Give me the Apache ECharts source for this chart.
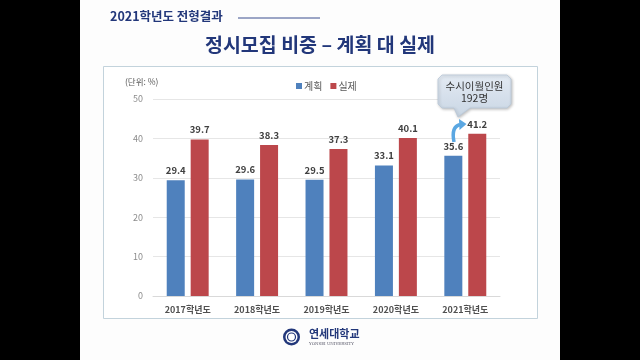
<!DOCTYPE html>
<html><head><meta charset="utf-8">
<script src="https://cdn.jsdelivr.net/npm/echarts@6/dist/echarts.min.js"></script>
<style>html,body{margin:0;padding:0;background:#000;}#c{width:640px;height:360px;}</style>
</head><body><div id="c"></div>
<script>
const categories = ['2017학년도','2018학년도','2019학년도','2020학년도','2021학년도'];
const planned = [29.4, 29.6, 29.5, 33.1, 35.6];
const actual = [39.7, 38.3, 37.3, 40.1, 41.2];
const yTicks = [0, 10, 20, 30, 40, 50];

const FONT = '"Noto Sans CJK KR", "Noto Sans", sans-serif';
const NAVY = '#22377a';
const chart = echarts.init(document.getElementById('c'));
chart.setOption({
  backgroundColor: '#000',
  animation: false,
  textStyle: { fontFamily: FONT },
  graphic: [
    { type: 'rect', z: -100, shape: { x: 80, y: 0, width: 480, height: 360 }, style: { fill: '#fdfdfd' } },
    { type: 'text', left: 110, top: 10, style: { text: '2021학년도 전형결과', font: 'bold 12.5px ' + FONT, fill: NAVY } },
    { type: 'line', shape: { x1: 238, y1: 18, x2: 320, y2: 18 }, style: { stroke: '#3a4f8f', lineWidth: 1 } },
    { type: 'text', x: 320, y: 45, style: { text: '정시모집 비중 – 계획 대 실제', font: 'bold 19.5px ' + FONT, fill: NAVY, textAlign: 'center', textVerticalAlign: 'middle' } },
    { type: 'rect', z: -50, shape: { x: 103.5, y: 66.5, width: 434, height: 252 }, style: { fill: '#ffffff', stroke: '#c3d3dc', lineWidth: 1 } },
    { type: 'text', x: 125, y: 82, style: { text: '(단위: %)', font: '8.5px ' + FONT, fill: '#595959', textVerticalAlign: 'middle' } },
    // callout
    { type: 'polygon', z: 10, shape: { points: [[442,75],[507,75],[511,79],[511,104],[507,108],[470,108],[458,117],[454,108],[442,108],[438,104],[438,79]] },
      style: { fill: new echarts.graphic.LinearGradient(0,0,0,1,[{offset:0,color:'#e3eaf3'},{offset:1,color:'#c9d6e4'}]), stroke: '#b9c8d8', lineWidth: 0.8, shadowBlur: 3, shadowColor: 'rgba(0,0,0,0.25)', shadowOffsetX: 1, shadowOffsetY: 1 } },
    { type: 'text', z: 11, x: 474.5, y: 86, style: { text: '수시이월인원', font: '10.5px ' + FONT, fill: '#333', textAlign: 'center', textVerticalAlign: 'middle' } },
    { type: 'text', z: 11, x: 474.5, y: 98.5, style: { text: '192명', font: '10.5px ' + FONT, fill: '#333', textAlign: 'center', textVerticalAlign: 'middle' } },
    // curved arrow
    { type: 'bezierCurve', z: 10, shape: { x1: 454, y1: 142, cpx1: 452, cpy1: 132, cpx2: 454, cpy2: 126, x2: 460, y2: 124.5 }, style: { stroke: '#5aa7e2', lineWidth: 3.5, fill: null } },
    { type: 'polygon', z: 10, shape: { points: [[459,119],[466.5,124],[459.5,130]] }, style: { fill: '#5aa7e2' } },
    // logo
    { type: 'circle', z: 5, shape: { cx: 291.5, cy: 337, r: 8.5 }, style: { fill: NAVY } },
    { type: 'circle', z: 6, shape: { cx: 291.5, cy: 337, r: 6 }, style: { fill: '#fff' } },
    { type: 'circle', z: 7, shape: { cx: 291.5, cy: 337, r: 4 }, style: { fill: 'none', stroke: NAVY, lineWidth: 1.2 } },
    { type: 'text', x: 309, y: 334, style: { text: '연세대학교', font: 'bold 11px ' + FONT, fill: NAVY, textVerticalAlign: 'middle' } },
    { type: 'text', x: 309, y: 343.5, style: { text: 'YONSEI UNIVERSITY', font: '4px "DejaVu Serif", serif', fill: '#556', textVerticalAlign: 'middle' } }
  ],
  legend: {
    top: 76, left: 291,
    itemWidth: 6, itemHeight: 6, itemGap: 8,
    icon: 'rect',
    textStyle: { fontSize: 10, color: '#595959', fontFamily: FONT, padding: [0,0,0,-3] },
    data: ['계획', '실제']
  },
  grid: { left: 153, right: 140, top: 99, bottom: 64 },
  xAxis: {
    type: 'category', data: categories,
    axisLine: { lineStyle: { color: '#d9d9d9' } },
    axisTick: { show: false },
    axisLabel: { fontSize: 9, fontWeight: 'bold', color: '#505050', margin: 9, fontFamily: FONT }
  },
  yAxis: {
    type: 'value', min: yTicks[0], max: yTicks[yTicks.length-1], interval: 10,
    axisLine: { show: false }, axisTick: { show: false },
    axisLabel: { fontSize: 9, color: '#8c8c8c', margin: 10, fontFamily: FONT },
    splitLine: { lineStyle: { color: '#e6e6e6' } }
  },
  series: [
    { name: '계획', type: 'bar', data: planned, barWidth: 18, barGap: '33%',
      itemStyle: { color: '#4f81bd' },
      label: { show: true, position: 'top', distance: 5, fontSize: 9.5, fontWeight: 'bold', color: '#404040', fontFamily: FONT } },
    { name: '실제', type: 'bar', data: actual, barWidth: 18,
      itemStyle: { color: '#bc474b' },
      label: { show: true, position: 'top', distance: 5, fontSize: 9.5, fontWeight: 'bold', color: '#404040', fontFamily: FONT } }
  ]
});
</script></body></html>
